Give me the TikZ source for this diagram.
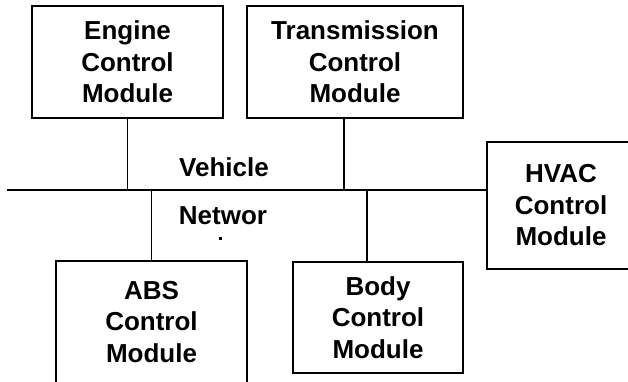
\documentclass[tikz,border=0pt]{standalone}
\usepackage{fontspec}
\setmainfont{Liberation Sans}

\tikzset{
  module/.style={draw, align=center, inner sep=0pt,
    font=\bfseries\fontsize{26}{31.5}\selectfont},
  buslabel/.style={inner sep=0pt, font=\bfseries\fontsize{26}{31.5}\selectfont},
}

\begin{document}
\begin{tikzpicture}[x=1pt, y=-1pt, line width=1.8pt]
        \useasboundingbox (0,0) rectangle (628,381);
        \clip (0,0) rectangle (628,381);
        % modules
        \node[module, minimum width=191pt, minimum height=112pt] (ecm) at (127.5,62) {Engine\\Control\\Module};
        \node[module, minimum width=216pt, minimum height=112pt] (tcm) at (355,62) {Transmission\\Control\\Module};
        \node[module, minimum width=148pt, minimum height=127pt] (hvac) at (561,205.5) {HVAC\\Control\\Module};
        \node[module, minimum width=191pt, minimum height=122pt] (abs) at (151.5,322) {ABS\\Control\\Module};
        \node[module, minimum width=170pt, minimum height=111pt] (bcm) at (378,317.5) {Body\\Control\\Module};
        % the bus
        \coordinate (busL) at (7,190);
        \draw (busL) -- (busL -| hvac.west);
        \node[buslabel] (veh) at (224,167) {Vehicle};
        \node[buslabel] (net) at (223,216) {Networ};
        \fill (218.5,236.5) rectangle (221.5,239.5);
        % drops to the bus
        \draw (ecm.south) -- (ecm.south |- busL);
        \draw ([xshift=-11pt]tcm.south) -- ([xshift=-11pt]tcm.south |- busL);
        \draw (abs.north) -- (abs.north |- busL);
        \draw ([xshift=-11pt]bcm.north) -- ([xshift=-11pt]bcm.north |- busL);
\end{tikzpicture}
\end{document}
